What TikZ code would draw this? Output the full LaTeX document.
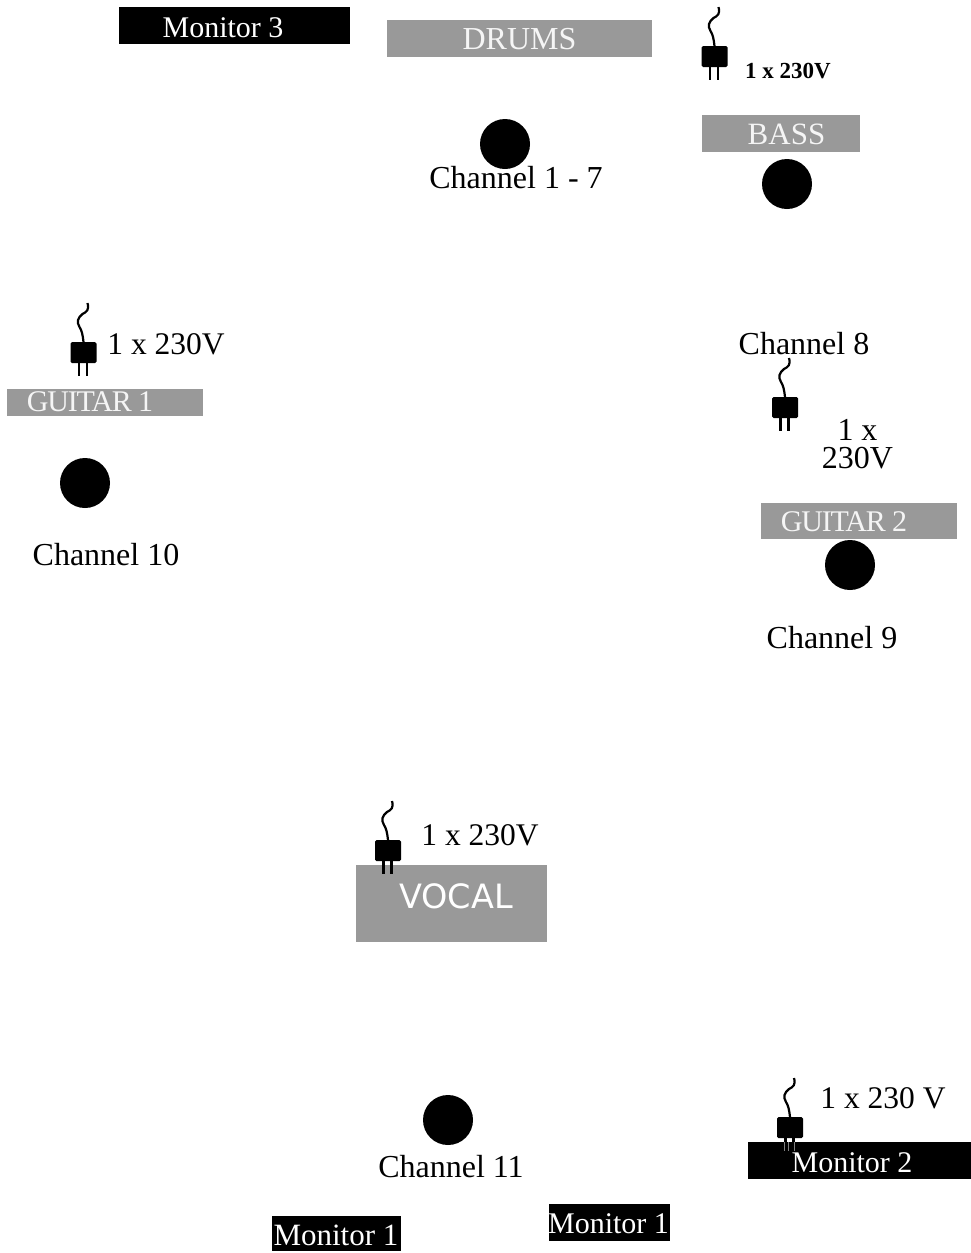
\documentclass[tikz,border=0pt]{standalone}
\usepackage{fontspec}
\setmainfont{Liberation Serif}
\newfontfamily\vocalfont{DejaVu Sans}
\definecolor{devgray}{gray}{0.6}
\tikzset{
  x=1pt,y=-1pt,
  txt/.style={anchor=base,inner sep=0pt,font=\fontsize{32}{36}\selectfont},
  pow/.style={txt,font=\fontsize{31.5}{36}\selectfont},
  wtxt/.style={txt,text=white,font=\fontsize{31}{36}\selectfont},
  mtxt/.style={txt,text=white,font=\fontsize{30}{36}\selectfont},
  gtxt/.style={wtxt,font=\fontsize{30}{36}\selectfont},
  dev/.style={fill=devgray,draw=none},
  mon/.style={fill=black,draw=none},
  spk/.style={circle,fill=black,draw=none,minimum size=50pt,inner sep=0pt},
  pics/plug/.style={code={
    \draw[line width=2.2pt] (0,0) .. controls (-1,-8) and (-1.5,-11) .. (-4,-15)
      .. controls (-7,-20) and (-6,-24) .. (-1,-28) .. controls (3,-30) and (6,-32) .. (4,-39);
    \draw[line width=2.6pt] (-4.5,21) -- (-4.5,34) (3.5,21) -- (3.5,34);
    \fill[black,rounded corners=1.5pt] (-13,0) rectangle (13,21);
  }}
}
\begin{document}
\begin{tikzpicture}
\useasboundingbox (0,0) rectangle (971,1253);
\fill[white] (0,0) rectangle (971,1253);
% boxes
\fill[mon] (119,7) rectangle (350,44);
\fill[dev] (387,20) rectangle (652,57);
\fill[dev] (702,115) rectangle (860,152);
\fill[dev] (7,389) rectangle (203,416);
\fill[dev] (761,503) rectangle (957,539);
\fill[dev] (356,865) rectangle (547,942);
\fill[mon] (748,1142) rectangle (971,1179);
\fill[mon] (272,1216) rectangle (401,1251);
\fill[mon] (549,1204) rectangle (670,1241);
% speakers
\node[spk] (s17) at (505,144) {};
\node[spk] (s8) at (787,184) {};
\node[spk] (s10) at (85,483) {};
\node[spk] (s9) at (850,565) {};
\node[spk] (s11) at (448,1120) {};
% plugs
\pic at (714.5,46) {plug};
\pic at (83.5,342) {plug};
\pic at (785,397) {plug};
\pic at (388,840) {plug};
\pic at (790,1117) {plug};
\draw[gray,line width=0.8pt] (784,1142) -- (784,1151) (788,1142) -- (788,1151) (794,1142) -- (794,1151);
% box labels
\node[mtxt] (m3) at (223,37) {Monitor 3};
\node[wtxt,text=white!90!devgray,font=\fontsize{32}{36}\selectfont] (drums) at (519.5,49) {DRUMS};
\node[wtxt,text=white!90!devgray] (bass) at (786.5,144) {BASS};
\node[gtxt,text=white!90!devgray] (g1) at (90,411) {\addfontfeature{LetterSpace=-4}GUITAR 1};
\node[gtxt,text=white!90!devgray] (g2) at (844,531) {\addfontfeature{LetterSpace=-4}GUITAR 2};
\node[wtxt,font=\vocalfont\fontsize{33.5}{36}\selectfont] (vocal) at (456,908) {VOCAL};
\node[mtxt] (m2) at (852,1172) {Monitor 2};
\node[wtxt] (m1a) at (336,1245) {Monitor 1};
\node[mtxt] (m1b) at (608.5,1233) {Monitor 1};
% channels
\node[txt] (c17) at (516,188) {Channel 1 - 7};
\node[txt] (c8) at (804,354) {Channel 8};
\node[txt] (c10) at (106,565) {Channel 10};
\node[txt] (c9) at (832,648) {Channel 9};
\node[txt] (c11) at (451,1177) {Channel 11};
% power labels
\node[txt,font=\bfseries\fontsize{23}{30}\selectfont] (p1) at (788,78) {1 x 230V};
\node[pow] (p2) at (166,354) {1 x 230V};
\node[txt,anchor=center,align=center,font=\fontsize{32}{28}\selectfont] (p3) at (857.5,444) {1 x\\230V};
\node[pow] (p4) at (480,845) {1 x 230V};
\node[pow] (p5) at (883,1108) {1 x 230 V};
\end{tikzpicture}
\end{document}
